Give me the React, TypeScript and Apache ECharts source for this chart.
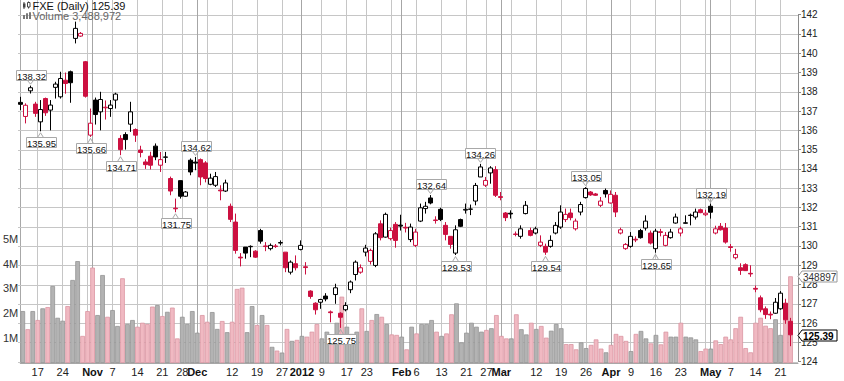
import React, { useEffect, useRef } from 'react';
import * as echarts from 'echarts';

const DATES = [
  '2011-10-12','2011-10-13','2011-10-14','2011-10-17','2011-10-18','2011-10-19','2011-10-20','2011-10-21','2011-10-24','2011-10-25','2011-10-26','2011-10-27','2011-10-28','2011-10-31',
  '2011-11-01','2011-11-02','2011-11-03','2011-11-04','2011-11-07','2011-11-08','2011-11-09','2011-11-10','2011-11-11','2011-11-14','2011-11-15','2011-11-16','2011-11-17','2011-11-18','2011-11-21','2011-11-22','2011-11-23','2011-11-25','2011-11-28','2011-11-29','2011-11-30',
  '2011-12-01','2011-12-02','2011-12-05','2011-12-06','2011-12-07','2011-12-08','2011-12-09','2011-12-12','2011-12-13','2011-12-14','2011-12-15','2011-12-16','2011-12-19','2011-12-20','2011-12-21','2011-12-22','2011-12-23','2011-12-27','2011-12-28','2011-12-29','2011-12-30',
  '2012-01-03','2012-01-04','2012-01-05','2012-01-06','2012-01-09','2012-01-10','2012-01-11','2012-01-12','2012-01-13','2012-01-17','2012-01-18','2012-01-19','2012-01-20','2012-01-23','2012-01-24','2012-01-25','2012-01-26','2012-01-27','2012-01-30','2012-01-31',
  '2012-02-01','2012-02-02','2012-02-03','2012-02-06','2012-02-07','2012-02-08','2012-02-09','2012-02-10','2012-02-13','2012-02-14','2012-02-15','2012-02-16','2012-02-17','2012-02-21','2012-02-22','2012-02-23','2012-02-24','2012-02-27','2012-02-28','2012-02-29',
  '2012-03-01','2012-03-02','2012-03-05','2012-03-06','2012-03-07','2012-03-08','2012-03-09','2012-03-12','2012-03-13','2012-03-14','2012-03-15','2012-03-16','2012-03-19','2012-03-20','2012-03-21','2012-03-22','2012-03-23','2012-03-26','2012-03-27','2012-03-28','2012-03-29','2012-03-30',
  '2012-04-02','2012-04-03','2012-04-04','2012-04-05','2012-04-09','2012-04-10','2012-04-11','2012-04-12','2012-04-13','2012-04-16','2012-04-17','2012-04-18','2012-04-19','2012-04-20','2012-04-23','2012-04-24','2012-04-25','2012-04-26','2012-04-27','2012-04-30',
  '2012-05-01','2012-05-02','2012-05-03','2012-05-04','2012-05-07','2012-05-08','2012-05-09','2012-05-10','2012-05-11','2012-05-14','2012-05-15','2012-05-16','2012-05-17','2012-05-18','2012-05-21','2012-05-22','2012-05-23',
];

const OPEN = [
  137.45, 136.72, 138.05, 137.36, 136.44, 137.65, 137.05, 138.23, 137.74, 138.6,
  139.04, 140.77, 140.89, 139.56, 135.75, 137.57, 136.96, 137.17, 137.13, 137.57,
  135.58, 135.78, 136.32, 136.04, 134.98, 134.36, 134.66, 135.18, 134.19, 134.6,
  133.5, 131.96, 133.39, 132.58, 134.45, 134.35, 134.48, 134.31, 133.2, 133.15,
  132.9, 132.85, 132.06, 131.24, 129.42, 129.94, 129.96, 129.73, 130.8, 130.0,
  129.86, 130.0, 130.15, 129.68, 128.64, 129.08, 129.82, 128.92, 127.66, 127.03,
  127.08, 127.4, 126.58, 127.48, 126.51, 126.69, 127.73, 128.52, 128.64, 129.68,
  129.2, 128.99, 131.15, 130.46, 130.38, 131.12, 131.08, 130.97, 130.33, 130.03,
  131.29, 131.94, 132.49, 131.35, 131.9, 131.07, 130.5, 129.63, 131.37, 131.86,
  131.9, 132.33, 133.58, 133.15, 133.79, 133.96, 132.56, 131.71, 131.7, 130.62,
  130.5, 131.68, 130.8, 130.67, 130.03, 129.98, 129.98, 130.67, 130.98, 131.37,
  131.71, 130.89, 131.76, 132.51, 132.8, 132.7, 132.11, 132.88, 132.23, 132.63,
  130.67, 129.86, 129.98, 130.35, 130.8, 130.93, 130.67, 129.86, 130.74, 130.03,
  130.43, 131.19, 130.67, 131.2, 131.6, 131.5, 131.88, 131.62, 132.06, 130.67,
  131.02, 130.93, 129.96, 129.39, 128.87, 129.03, 128.58, 127.8, 127.31, 126.74,
  126.46, 126.51, 126.74, 127.03, 126.09,
];

const HIGH = [
  137.74, 137.4, 138.32, 137.48, 137.57, 137.7, 137.57, 138.52, 139.04, 139.0,
  139.1, 141.64, 141.1, 139.6, 137.13, 137.7, 138.0, 137.55, 137.57, 137.95,
  135.75, 135.9, 137.48, 136.1, 135.2, 134.5, 134.89, 135.32, 134.88, 134.88,
  133.6, 132.46, 133.4, 132.85, 134.54, 134.62, 134.54, 134.4, 133.75, 133.84,
  133.15, 133.44, 132.2, 131.68, 129.63, 129.94, 130.03, 129.78, 130.89, 130.2,
  130.13, 130.1, 130.29, 129.68, 129.25, 129.51, 130.29, 129.16, 127.7, 127.08,
  127.26, 127.55, 126.65, 128.04, 126.56, 127.08, 128.21, 129.25, 129.04, 130.06,
  129.86, 130.72, 131.33, 131.73, 130.95, 131.24, 131.62, 131.2, 131.16, 130.89,
  132.2, 132.29, 132.64, 131.54, 131.98, 131.24, 130.5, 131.07, 131.42, 132.2,
  132.15, 133.27, 134.26, 133.58, 134.14, 134.14, 132.8, 131.76, 131.85, 130.75,
  131.07, 132.33, 130.95, 131.0, 130.55, 130.12, 130.55, 131.24, 132.11, 131.94,
  131.94, 131.42, 132.29, 133.05, 132.85, 132.75, 132.54, 132.98, 132.88, 132.8,
  130.95, 130.15, 130.72, 130.5, 130.89, 131.59, 130.8, 130.89, 130.89, 130.72,
  130.89, 131.68, 131.0, 131.59, 131.68, 131.94, 131.94, 131.88, 132.19, 131.05,
  131.19, 131.19, 130.1, 129.85, 129.1, 129.1, 129.0, 127.95, 127.43, 126.86,
  126.6, 127.3, 127.66, 127.26, 126.27,
];

const LOW = [
  137.05, 136.36, 137.91, 136.7, 135.95, 136.75, 136.0, 137.65, 137.65, 137.9,
  137.43, 140.51, 140.85, 137.7, 135.66, 136.3, 136.0, 136.56, 136.7, 137.13,
  134.71, 135.0, 135.92, 135.4, 134.6, 134.0, 133.97, 134.45, 133.84, 134.31,
  132.63, 131.75, 132.46, 132.55, 133.67, 133.93, 133.15, 133.3, 133.15, 133.06,
  132.37, 132.8, 131.24, 129.6, 128.94, 129.34, 129.42, 129.38, 130.12, 129.73,
  129.77, 129.9, 130.03, 128.64, 128.52, 128.73, 129.77, 128.52, 127.26, 126.44,
  126.74, 127.13, 126.04, 127.0, 125.75, 126.61, 127.55, 128.21, 128.56, 129.46,
  129.04, 128.9, 130.29, 130.43, 130.29, 129.91, 130.8, 130.7, 130.2, 129.94,
  131.24, 131.68, 132.16, 131.16, 131.29, 130.29, 129.86, 129.53, 130.98, 131.68,
  131.6, 132.11, 133.58, 133.06, 133.23, 132.54, 132.37, 131.29, 131.42, 130.5,
  130.38, 131.64, 130.5, 130.6, 129.94, 129.54, 129.91, 130.6, 130.89, 131.24,
  131.33, 130.8, 131.59, 132.46, 132.6, 132.6, 132.02, 132.51, 132.2, 131.5,
  130.6, 129.8, 129.91, 130.2, 130.38, 130.8, 130.08, 129.65, 130.5, 129.98,
  130.38, 131.16, 130.5, 131.16, 131.07, 131.37, 131.7, 131.55, 131.42, 130.6,
  130.8, 130.12, 129.7, 129.3, 128.5, 128.7, 128.4, 127.6, 126.56, 126.22,
  126.2, 126.48, 126.69, 125.96, 124.8,
];

const CLOSE = [
  137.35, 137.3, 138.21, 136.88, 137.08, 136.91, 137.31, 138.4, 138.69, 138.43,
  138.47, 141.29, 141.03, 137.77, 136.37, 136.82, 137.6, 137.2, 137.31, 137.88,
  135.0, 135.52, 136.96, 135.75, 134.85, 134.22, 134.19, 134.62, 134.48, 134.62,
  132.85, 131.93, 132.58, 132.8, 133.84, 134.3, 133.58, 133.5, 133.52, 133.6,
  132.86, 133.27, 131.38, 129.77, 129.38, 129.63, 129.98, 129.42, 130.25, 129.97,
  130.03, 129.97, 130.18, 128.87, 129.16, 128.87, 130.03, 128.88, 127.38, 126.69,
  127.22, 127.25, 126.54, 127.83, 126.3, 126.91, 128.13, 129.16, 128.87, 129.89,
  129.77, 130.63, 130.43, 131.64, 130.8, 130.29, 131.03, 130.93, 130.98, 130.72,
  131.98, 132.06, 132.23, 131.32, 131.37, 130.6, 130.08, 130.84, 131.02, 131.9,
  131.92, 133.14, 134.1, 133.4, 134.05, 132.63, 132.52, 131.47, 131.66, 130.6,
  130.89, 132.11, 130.55, 130.89, 130.2, 129.68, 130.29, 131.07, 131.76, 131.64,
  131.47, 131.29, 132.15, 132.98, 132.65, 132.63, 132.33, 132.7, 132.68, 131.76,
  130.84, 130.08, 130.5, 130.31, 130.43, 131.29, 130.15, 130.77, 130.7, 130.55,
  130.72, 131.5, 130.89, 131.18, 131.58, 131.76, 131.73, 131.7, 131.75, 130.89,
  130.84, 130.2, 129.92, 129.56, 128.73, 128.72, 128.55, 127.76, 126.69, 126.44,
  126.42, 127.08, 127.55, 126.17, 125.39,
];

// volume in millions of shares
const VOLUME_M = [
  2.09, 1.36, 2.09, 1.73, 2.2, 2.25, 3.1, 1.82, 1.7, 2.29,
  3.34, 4.1, 1.09, 2.09, 3.84, 1.93, 3.54, 1.86, 2.13, 1.49,
  3.41, 1.57, 1.73, 1.46, 1.62, 1.57, 2.27, 2.33, 1.89, 2.06,
  2.23, 0.99, 1.86, 1.57, 2.09, 1.22, 1.93, 1.66, 2.05, 1.37,
  1.69, 1.24, 1.66, 2.98, 3.03, 1.24, 2.29, 1.53, 1.93, 1.53,
  0.65, 0.5, 0.42, 1.37, 0.89, 0.93, 1.09, 1.06, 1.26, 1.57,
  0.99, 1.26, 1.15, 1.62, 2.67, 1.46, 1.17, 1.26, 2.2, 1.29,
  1.73, 1.97, 1.86, 1.57, 1.15, 1.13, 1.06, 0.55, 1.46, 1.19,
  1.57, 1.57, 1.73, 1.26, 1.09, 1.19, 1.96, 2.4, 0.83, 1.22,
  1.62, 1.46, 1.26, 1.33, 1.4, 1.93, 1.09, 0.99, 0.99, 1.96,
  1.36, 1.15, 1.62, 1.37, 1.49, 1.02, 1.3, 1.57, 1.4, 0.76,
  0.76, 0.55, 0.83, 0.6, 0.73, 0.95, 0.58, 0.43, 0.73, 1.17,
  1.09, 0.89, 0.48, 1.17, 1.29, 0.99, 0.79, 1.13, 0.75, 1.26,
  1.06, 1.06, 1.62, 1.06, 1.03, 0.95, 0.48, 0.58, 0.58, 0.91,
  0.76, 1.06, 0.95, 1.4, 1.86, 0.6, 0.43, 1.62, 1.82, 1.5,
  1.4, 1.76, 1.13, 2.4, 3.488972,
];

const PREV_CLOSE = 137.2; // close of the session before the first one shown

const CALLOUT_DATES = ['2011-10-14','2011-10-18','2011-11-01','2011-11-09','2011-11-25','2011-12-01','2012-01-13','2012-02-09','2012-02-16','2012-02-24','2012-03-14','2012-03-26','2012-04-16','2012-05-01'];
const CALLOUT_SIDE = ['high','low','low','low','low','high','low','high','low','high','low','high','low','high'];

const MONTHS = ['Jan','Feb','Mar','Apr','May','Jun','Jul','Aug','Sep','Oct','Nov','Dec'];
const VOLUME_TICKS = [1, 2, 3, 4, 5];
const PRICE_MIN = 124;
const PRICE_MAX = 142;

const FONT = '"Liberation Sans", Arial, sans-serif';
const RED = '#cc1040';
const GRID_LEFT = 18;
const GRID_RIGHT = 46;
const GRID_LINE = '#c6c6c6';
const MONTH_LINE = '#a6a6a6';

function calendar() {
  const parsed = DATES.map((d) => {
    const [y, m, dd] = d.split('-').map(Number);
    return { y, m, dd, dow: new Date(Date.UTC(y, m - 1, dd)).getUTCDay() };
  });
  const monthStart = parsed.map((p, i) => i > 0 && p.m !== parsed[i - 1].m);
  const weekStart = parsed.map((p, i) => i > 0 && p.dow < parsed[i - 1].dow);
  return { parsed, monthStart, weekStart };
}

function buildOption() {
  const n = CLOSE.length;
  const cats = [...DATES, ''];
  const { parsed, monthStart, weekStart } = calendar();
  const labels = parsed.map((p, i) => {
    if (monthStart[i]) return p.m === 1 ? '{b|' + p.y + '}' : '{b|' + MONTHS[p.m - 1] + '}';
    if (weekStart[i]) {
      for (let j = Math.max(0, i - 2); j <= Math.min(n - 1, i + 2); j++) {
        if (j !== i && monthStart[j]) return '';
      }
      return String(p.dd);
    }
    return '';
  });
  labels.push('');

  const up = (i: number) => CLOSE[i] >= (i === 0 ? PREV_CLOSE : CLOSE[i - 1]);

  const candles = CLOSE.map((c, i) => {
    const line = up(i) ? '#000000' : RED;
    const fill = c >= OPEN[i] ? '#ffffff' : line;
    return {
      value: [OPEN[i], c, LOW[i], HIGH[i]],
      itemStyle: { color: fill, color0: fill, borderColor: line, borderColor0: line, borderColorDoji: line, borderWidth: 1 },
    };
  });

  const vols = VOLUME_M.map((v, i) => ({
    value: v,
    itemStyle: up(i)
      ? { color: '#b3b3b3', borderColor: '#949494', borderWidth: 0.8 }
      : { color: '#f0b9c2', borderColor: '#da95a2', borderWidth: 0.8 },
  }));

  const volMax = 363 / 24.85;

  return {
    animation: false,
    backgroundColor: '#ffffff',
    textStyle: { fontFamily: FONT },
    grid: [
      { left: GRID_LEFT, right: GRID_RIGHT, top: 0, bottom: 18 },
      { left: GRID_LEFT, right: GRID_RIGHT, top: 14.7, bottom: 19.4 },
    ],
    xAxis: [
      {
        type: 'category', gridIndex: 0, data: cats, boundaryGap: true, position: 'bottom',
        axisLine: { show: true, lineStyle: { color: '#a8a8a8' } },
        axisTick: { show: false },
        axisLabel: {
          interval: (i: number) => labels[i] !== '',
          formatter: (_v: string, i: number) => labels[i],
          margin: 3, fontSize: 11, color: '#222', fontFamily: FONT,
          rich: { b: { fontWeight: 'bold', fontSize: 11, color: '#111', fontFamily: FONT } },
        },
        splitLine: { show: false },
      },
      { type: 'category', gridIndex: 1, data: cats, boundaryGap: true, show: false },
    ],
    yAxis: [
      {
        type: 'value', gridIndex: 0, min: 0, max: volMax, interval: 1, position: 'left',
        axisLine: { show: true, lineStyle: { color: '#a8a8a8' } },
        axisTick: { show: false }, splitLine: { show: false },
        axisLabel: {
          margin: 2, fontSize: 11, color: '#333', fontFamily: FONT,
          formatter: (v: number) => (VOLUME_TICKS.indexOf(Math.round(v)) >= 0 && Math.abs(v - Math.round(v)) < 1e-6 ? Math.round(v) + 'M' : ''),
        },
      },
      {
        type: 'value', gridIndex: 1, min: PRICE_MIN, max: PRICE_MAX, interval: 1, position: 'right',
        axisLine: { show: true, lineStyle: { color: '#8a8a8a' } },
        axisTick: { show: true, length: 3, lineStyle: { color: '#8a8a8a' } },
        splitLine: { show: false },
        axisLabel: { margin: 3, fontSize: 10, color: '#222', fontFamily: FONT },
      },
    ],
    series: [
      { type: 'bar', xAxisIndex: 0, yAxisIndex: 0, data: vols, barCategoryGap: '6%', z: 2, silent: true },
      { type: 'candlestick', xAxisIndex: 1, yAxisIndex: 1, data: candles, barWidth: 3.6, z: 3, silent: true },
    ],
  };
}

function txt(text: string, x: number, y: number, size: number, color: string, align = 'left', weight = 'normal', z = 102) {
  return {
    type: 'text', z,
    style: {
      text, x, y, fill: color,
      font: `${weight} ${size}px Arial`,
      fontSize: size, fontFamily: 'Arial', fontWeight: weight,
      align, verticalAlign: 'middle', textAlign: align, textVerticalAlign: 'middle',
    },
  };
}

function gridLines(chart: any) {
  const els: any[] = [];
  const { monthStart, weekStart } = calendar();
  const x1 = GRID_LEFT;
  const x2 = chart.getWidth() - GRID_RIGHT;
  const yBottom = chart.convertToPixel({ xAxisIndex: 0, yAxisIndex: 0 }, [0, 0])[1];
  const yTop = 0;
  // horizontal lines at every whole price
  for (let p = PRICE_MIN; p <= PRICE_MAX; p += 1) {
    const y = Math.round(chart.convertToPixel({ xAxisIndex: 1, yAxisIndex: 1 }, [0, p])[1]) + 0.5;
    els.push({ type: 'line', z: 1, silent: true, shape: { x1, y1: y, x2, y2: y }, style: { stroke: GRID_LINE, lineWidth: 1 } });
  }
  // vertical lines at week starts (light) and month starts (darker)
  DATES.forEach((_d, i) => {
    if (!monthStart[i] && !weekStart[i]) return;
    const x = Math.floor(chart.convertToPixel({ xAxisIndex: 0, yAxisIndex: 0 }, [i, 0])[0]) + 0.5;
    els.push({ type: 'line', z: monthStart[i] ? 1.5 : 1, silent: true, shape: { x1: x, y1: yTop, x2: x, y2: yBottom }, style: { stroke: monthStart[i] ? MONTH_LINE : GRID_LINE, lineWidth: 1 } });
  });
  return els;
}

function buildGraphics(chart: any) {
  const els: any[] = gridLines(chart);
  const n = CLOSE.length;
  const grey = '#a8a8a8';

  CALLOUT_DATES.forEach((d, k) => {
    const i = DATES.indexOf(d);
    const isHigh = CALLOUT_SIDE[k] === 'high';
    const v = isHigh ? HIGH[i] : LOW[i];
    const p = chart.convertToPixel({ xAxisIndex: 1, yAxisIndex: 1 }, [i, v]);
    const px = p[0], py = p[1];
    const w = 30, h = 10, gap = 6;
    const bx = Math.round(px - w / 2) + 0.5;
    const by = Math.round(isHigh ? py - gap - h : py + gap) + 0.5;
    const edge = isHigh ? by + h : by;
    const tip = isHigh ? py - 1.5 : py + 1.5;
    els.push({ type: 'rect', z: 100, shape: { x: bx, y: by, width: w, height: h }, style: { fill: '#ffffff', stroke: grey, lineWidth: 1 } });
    els.push({ type: 'polyline', z: 101, shape: { points: [[px - 3, edge], [px, tip], [px + 3, edge]] }, style: { stroke: grey, fill: null, lineWidth: 1 } });
    els.push(txt(v.toFixed(2), bx + w / 2, by + h / 2 + 0.5, 9.5, '#111', 'center'));
  });

  const axisX = chart.getWidth() - GRID_RIGHT;
  const tag = (y: number, text: string, stroke: string, color: string, weight: string) => {
    const yy = Math.round(y) + 0.5;
    els.push({ type: 'polygon', z: 110, shape: { points: [[axisX, yy], [axisX + 4, yy - 5.5], [axisX + 39, yy - 5.5], [axisX + 39, yy + 5.5], [axisX + 4, yy + 5.5]] }, style: { fill: '#ffffff', stroke, lineWidth: 1 } });
    els.push(txt(text, axisX + 5, yy + 0.5, 10, color, 'left', weight, 111));
  };
  const lastVol = VOLUME_M[n - 1];
  const vy = chart.convertToPixel({ xAxisIndex: 0, yAxisIndex: 0 }, [n - 1, lastVol])[1];
  const cy = chart.convertToPixel({ xAxisIndex: 1, yAxisIndex: 1 }, [n - 1, CLOSE[n - 1]])[1];
  tag(vy, String(Math.round(lastVol * 1e5)), '#9a9a9a', '#333', 'normal');
  tag(cy, CLOSE[n - 1].toFixed(2), '#000000', '#000000', 'bold');

  // header: symbol line and volume line
  els.push({ type: 'line', z: 120, shape: { x1: 24, y1: 2, x2: 24, y2: 9 }, style: { stroke: '#444', lineWidth: 1 } });
  els.push({ type: 'rect', z: 121, shape: { x: 23, y: 3.5, width: 2.5, height: 4 }, style: { fill: '#444' } });
  els.push({ type: 'line', z: 120, shape: { x1: 28.5, y1: 1.5, x2: 28.5, y2: 8.5 }, style: { stroke: '#444', lineWidth: 1 } });
  els.push({ type: 'rect', z: 121, shape: { x: 27.5, y: 2.5, width: 2.5, height: 4.5 }, style: { fill: '#fff', stroke: '#444', lineWidth: 1 } });
  els.push(txt(`FXE (Daily) ${CLOSE[n - 1].toFixed(2)}`, 32.5, 5.8, 11, '#111', 'left', 'normal', 120));
  els.push({ type: 'rect', z: 120, shape: { x: 23, y: 15, width: 2, height: 4 }, style: { fill: '#777' } });
  els.push({ type: 'rect', z: 120, shape: { x: 26, y: 13.3, width: 2, height: 5.7 }, style: { fill: '#777' } });
  els.push({ type: 'rect', z: 120, shape: { x: 29, y: 12.3, width: 2, height: 6.7 }, style: { fill: '#777' } });
  els.push(txt(`Volume ${Math.round(lastVol * 1e6).toLocaleString('en-US')}`, 32.5, 16.2, 11, '#666', 'left', 'normal', 120));

  return els;
}

export default function App() {
  const ref = useRef<HTMLDivElement>(null);
  useEffect(() => {
    document.body.style.margin = '0';
    const chart = echarts.init(ref.current as HTMLDivElement, null, { renderer: 'svg' });
    chart.setOption(buildOption() as any);
    chart.setOption({ graphic: buildGraphics(chart) } as any);
    return () => chart.dispose();
  }, []);
  return <div ref={ref} style={{ position: 'fixed', left: 0, top: 0, width: 844, height: 381 }} />;
}
